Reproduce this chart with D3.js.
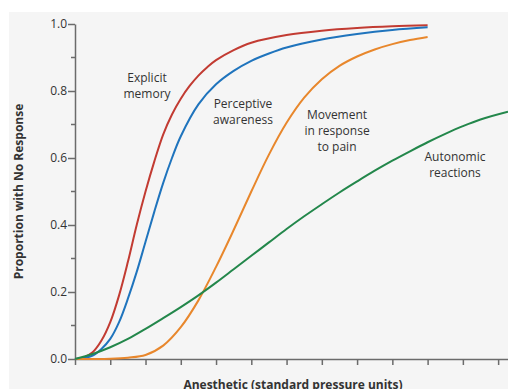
<!DOCTYPE html>
<meta charset="utf-8">
<script src="https://d3js.org/d3.v7.min.js"></script>
<style>
body { margin: 0; background: #fff; }
text { font-family: "Open Sans", sans-serif; fill: #333; }
.axis line, .axis path { stroke: #6b6b6b; stroke-width: 1.5; }
</style>
<body>
<script>
// values, x in tick units
var explicitX = [0, 0.25, 0.5, 0.75, 1, 1.25, 1.5, 1.75, 2, 2.25, 2.5, 2.75, 3, 3.25, 3.5, 3.75, 4, 4.5, 5, 6, 7, 8, 9, 10];
var explicitY = [0, 0.005, 0.02, 0.055, 0.11, 0.19, 0.29, 0.40, 0.50, 0.59, 0.67, 0.73, 0.777, 0.815, 0.846, 0.871, 0.892, 0.922, 0.944, 0.967, 0.98, 0.988, 0.993, 0.996];

var perceptX = [0, 0.25, 0.5, 0.75, 1, 1.25, 1.5, 1.75, 2, 2.25, 2.5, 2.75, 3, 3.5, 4, 4.5, 5, 5.5, 6, 7, 8, 9, 10];
var perceptY = [0, 0.003, 0.01, 0.03, 0.06, 0.11, 0.18, 0.26, 0.35, 0.44, 0.525, 0.60, 0.665, 0.76, 0.82, 0.86, 0.89, 0.912, 0.93, 0.954, 0.97, 0.982, 0.99];

var movementX = [0, 1, 1.5, 2, 2.5, 3, 3.5, 4, 4.5, 5, 5.5, 6, 6.5, 7, 7.5, 8, 8.5, 9, 9.5, 10];
var movementY = [0, 0.001, 0.004, 0.012, 0.04, 0.095, 0.175, 0.275, 0.385, 0.50, 0.61, 0.705, 0.78, 0.835, 0.875, 0.903, 0.924, 0.94, 0.952, 0.961];

var autonomicX = [0, 0.5, 1, 1.5, 2, 2.5, 3, 3.5, 4, 4.5, 5, 5.5, 6, 6.5, 7, 7.5, 8, 8.5, 9, 9.5, 10, 10.5, 11, 11.5, 12.28];
var autonomicY = [0, 0.015, 0.035, 0.06, 0.09, 0.122, 0.155, 0.19, 0.228, 0.268, 0.308, 0.348, 0.388, 0.426, 0.462, 0.497, 0.53, 0.562, 0.592, 0.62, 0.647, 0.672, 0.695, 0.715, 0.738];

var yTicks = [0, 0.2, 0.4, 0.6, 0.8, 1.0];
var yMinor = [0.1, 0.3, 0.5, 0.7, 0.9];
var xTicks = d3.range(0, 13);

var series = [
  {x: explicitX, y: explicitY, color: "#c23b32", label: ["Explicit", "memory"], lx: 147, ly: 82},
  {x: perceptX, y: perceptY, color: "#1f74bd", label: ["Perceptive", "awareness"], lx: 243, ly: 108},
  {x: movementX, y: movementY, color: "#e8872c", label: ["Movement", "in response", "to pain"], lx: 337, ly: 119},
  {x: autonomicX, y: autonomicY, color: "#23874b", label: ["Autonomic", "reactions"], lx: 455, ly: 161}
];

var width = 508, height = 389;

var svg = d3.select("body").append("svg")
    .attr("width", width)
    .attr("height", height);

svg.append("rect")
    .attr("x", 9).attr("y", 12)
    .attr("width", width - 9).attr("height", height - 12)
    .attr("fill", "#f5f5f5");

var x = d3.scaleLinear().domain([0, 12.28]).range([75, 508]);
var y = d3.scaleLinear().domain([0, 1]).range([359, 24]);

// y axis
var gy = svg.append("g").attr("class", "axis").attr("transform", "translate(75,0)");
gy.call(d3.axisLeft(y).tickValues(yTicks).tickSize(7).tickSizeOuter(0).tickFormat(d3.format(".1f")));
gy.selectAll("text").style("font-size", "12px").attr("fill", "#444").attr("x", -8);
gy.selectAll(".minor").data(yMinor).enter().append("line")
    .attr("class", "minor")
    .attr("x1", -4).attr("x2", 0)
    .attr("y1", function(d) { return y(d); })
    .attr("y2", function(d) { return y(d); });

// x axis, no labels
var gx = svg.append("g").attr("class", "axis").attr("transform", "translate(0,359)");
gx.call(d3.axisBottom(x).tickValues(xTicks).tickSize(6).tickSizeOuter(0).tickFormat(""));

svg.append("text")
    .attr("transform", "translate(23," + y(0.5) + ") rotate(-90)")
    .attr("text-anchor", "middle")
    .style("font-size", "12px")
    .style("font-weight", "bold")
    .text("Proportion with No Response");

svg.append("text")
    .attr("x", 293).attr("y", 389)
    .attr("text-anchor", "middle")
    .style("font-size", "12px")
    .style("font-weight", "bold")
    .text("Anesthetic (standard pressure units)");

var line = d3.line()
    .x(function(d) { return x(d[0]); })
    .y(function(d) { return y(d[1]); })
    .curve(d3.curveCatmullRom.alpha(0.5));

series.forEach(function(s) {
  svg.append("path")
      .datum(d3.zip(s.x, s.y))
      .attr("fill", "none")
      .attr("stroke", s.color)
      .attr("stroke-width", 2)
      .attr("d", line);

  var t = svg.append("text")
      .attr("text-anchor", "middle")
      .style("font-size", "12px");
  s.label.forEach(function(l, i) {
    t.append("tspan").attr("x", s.lx).attr("y", s.ly + i * 16).text(l);
  });
});
</script>
</body>
